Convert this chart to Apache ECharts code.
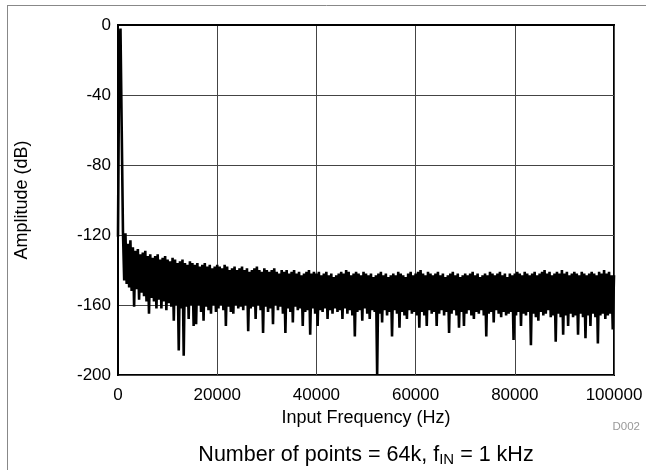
<!DOCTYPE html>
<html>
<head>
<meta charset="utf-8">
<script src="https://cdn.jsdelivr.net/npm/echarts@6/dist/echarts.min.js"></script>
<style>
html,body{margin:0;padding:0;background:#fff;}
#chart{width:646px;height:470px;}
</style>
</head>
<body>
<div id="chart"></div>
<script>
// FFT spectrum (bins every 250 Hz, alternating peak / trough)
var binStepHz = 250;
// peaks at 0, 500, 1000, ... Hz (dB)
var peakDb = [
-121,-2,-118,-119,-125,-123,-127,-129,-128,-131,
-130,-129,-132,-131,-133,-132,-131,-134,-133,-132,
-134,-135,-133,-134,-136,-135,-134,-136,-137,-135,
-136,-137,-136,-138,-137,-136,-138,-137,-139,-138,
-137,-138,-139,-137,-138,-140,-139,-138,-140,-139,
-138,-140,-139,-141,-140,-139,-138,-140,-141,-139,
-140,-141,-140,-139,-141,-142,-140,-141,-140,-142,
-141,-140,-142,-141,-143,-142,-141,-140,-142,-141,
-142,-141,-143,-142,-141,-143,-142,-144,-143,-142,
-141,-142,-140,-141,-143,-142,-141,-142,-143,-141,
-142,-143,-142,-144,-143,-142,-141,-143,-142,-144,
-143,-142,-143,-141,-142,-143,-144,-142,-141,-143,
-142,-141,-140,-142,-143,-141,-142,-143,-142,-141,
-143,-142,-144,-143,-142,-141,-143,-142,-144,-143,
-142,-143,-142,-141,-143,-142,-144,-143,-142,-143,
-141,-142,-143,-142,-141,-143,-142,-144,-142,-143,
-142,-141,-142,-143,-141,-142,-143,-142,-141,-143,
-142,-141,-140,-142,-141,-143,-142,-141,-142,-140,
-142,-141,-143,-142,-141,-142,-143,-141,-142,-143,
-142,-141,-142,-143,-141,-142,-140,-142,-141,-143
];
// troughs at 250, 750, 1250, ... Hz (dB)
var troughDb = [
-12,-60,-146,-148,-150,-152,-161,-151,-157,-153,
-155,-158,-165,-156,-158,-162,-157,-162,-158,-163,
-159,-161,-169,-160,-186,-162,-189,-161,-168,-160,
-172,-171,-160,-164,-169,-161,-163,-165,-160,-164,
-162,-160,-163,-172,-161,-164,-165,-160,-162,-161,
-163,-160,-175,-162,-161,-168,-160,-163,-176,-161,
-164,-162,-171,-160,-163,-161,-165,-176,-162,-164,
-170,-161,-163,-162,-172,-164,-163,-177,-162,-165,
-172,-163,-164,-162,-168,-163,-165,-162,-164,-163,
-168,-162,-165,-163,-166,-178,-164,-163,-169,-162,
-165,-168,-163,-164,-200,-165,-170,-163,-166,-164,
-178,-163,-165,-173,-164,-166,-168,-163,-165,-164,
-166,-173,-164,-166,-172,-163,-165,-164,-172,-165,
-163,-166,-164,-176,-165,-163,-166,-173,-164,-172,
-165,-163,-166,-168,-164,-165,-163,-166,-178,-165,
-164,-170,-163,-165,-167,-164,-166,-165,-164,-180,
-166,-164,-172,-165,-166,-164,-183,-165,-167,-169,
-164,-166,-165,-163,-167,-166,-181,-165,-167,-177,
-166,-172,-165,-167,-166,-177,-165,-167,-179,-166,
-172,-165,-167,-182,-166,-165,-168,-166,-165,-174
];
var lastBinDb = -143;
var xTicks = [0, 20000, 40000, 60000, 80000, 100000];
var yTicks = [0, -40, -80, -120, -160, -200];

var seriesData = [];
for (var k = 0; k < peakDb.length; k++) {
  seriesData.push([2 * k * binStepHz, peakDb[k]]);
  seriesData.push([(2 * k + 1) * binStepHz, troughDb[k]]);
}
seriesData.push([xTicks[xTicks.length - 1], lastBinDb]);

var FONT = 'Liberation Sans, Arial, Helvetica, sans-serif';
var chart = echarts.init(document.getElementById('chart'), null, {renderer: 'canvas'});
chart.setOption({
  animation: false,
  backgroundColor: '#fff',
  grid: {left: 118, right: 32, top: 25, bottom: 95, show: true, borderColor: '#000', borderWidth: 2, backgroundColor: 'transparent'},
  xAxis: {
    type: 'value', min: xTicks[0], max: xTicks[xTicks.length - 1], interval: 20000,
    name: 'Input Frequency (Hz)', nameLocation: 'middle', nameGap: 28,
    nameTextStyle: {fontFamily: FONT, fontSize: 18, color: '#000'},
    axisLine: {show: true, lineStyle: {color: '#000', width: 2}},
    axisTick: {show: false},
    axisLabel: {fontFamily: FONT, fontSize: 17, color: '#000', margin: 12, formatter: function (v) { return String(v); }},
    splitLine: {show: true, lineStyle: {color: '#444', width: 1}}
  },
  yAxis: {
    type: 'value', min: yTicks[yTicks.length - 1], max: yTicks[0], interval: 40,
    name: 'Amplitude (dB)', nameLocation: 'middle', nameGap: 87,
    nameTextStyle: {fontFamily: FONT, fontSize: 18, color: '#000'},
    axisLine: {show: true, lineStyle: {color: '#000', width: 2}},
    axisTick: {show: false},
    axisLabel: {fontFamily: FONT, fontSize: 17, color: '#000', margin: 7, formatter: function (v) { return String(v); }},
    splitLine: {show: true, lineStyle: {color: '#444', width: 1}}
  },
  series: [{
    type: 'line', data: seriesData, showSymbol: false, symbol: 'none',
    lineStyle: {color: '#000', width: 2.6, join: 'miter'}, sampling: null, clip: true, z: 3
  }],
  graphic: [
    {type: 'line', shape: {x1: 7, y1: 5.5, x2: 646, y2: 5.5}, style: {stroke: '#888', lineWidth: 1}},
    {type: 'line', shape: {x1: 7.5, y1: 5, x2: 7.5, y2: 470}, style: {stroke: '#888', lineWidth: 1}},
    {type: 'text', right: 6, top: 421, style: {text: 'D002', font: '11.5px ' + FONT, fill: '#999'}},
    {type: 'text', x: 366, y: 443, style: {
      textAlign: 'center',
      rich: {
        a: {fontFamily: FONT, fontSize: 21.5, color: '#000'},
        s: {fontFamily: FONT, fontSize: 15, color: '#000', padding: [9, 0, 0, 0]}
      },
      text: '{a|Number of points = 64k, f}{s|IN}{a| = 1 kHz}'
    }}
  ]
});
</script>
</body>
</html>
